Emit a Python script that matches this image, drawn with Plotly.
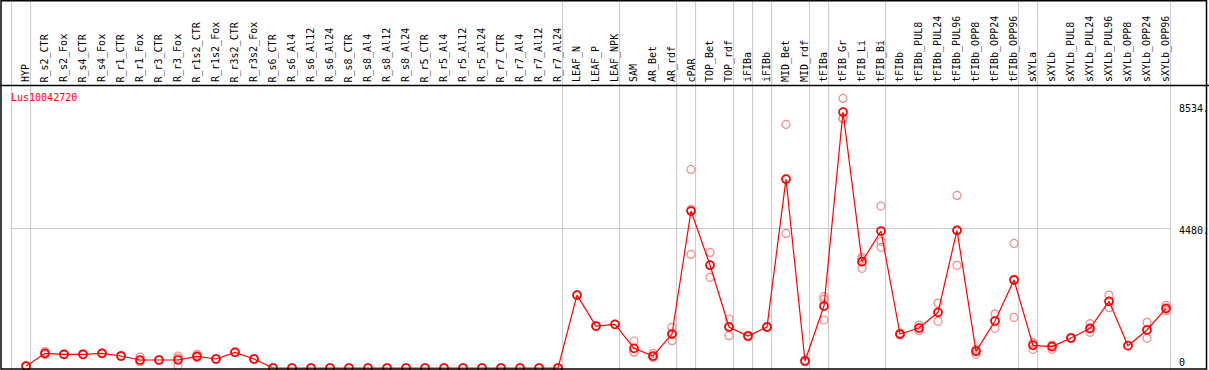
import plotly.graph_objects as go

categories = ["HYP", "R_s2_CTR", "R_s2_Fox", "R_s4_CTR", "R_s4_Fox", "R_r1_CTR", "R_r1_Fox",
              "R_r3_CTR", "R_r3_Fox", "R_r1s2_CTR", "R_r1s2_Fox", "R_r3s2_CTR", "R_r3s2_Fox",
              "R_s6_CTR", "R_s6_Al4", "R_s6_Al12", "R_s6_Al24", "R_s8_CTR", "R_s8_Al4",
              "R_s8_Al12", "R_s8_Al24", "R_r5_CTR", "R_r5_Al4", "R_r5_Al12", "R_r5_Al24",
              "R_r7_CTR", "R_r7_Al4", "R_r7_Al12", "R_r7_Al24", "LEAF_N", "LEAF_P", "LEAF_NPK",
              "SAM", "AR_Bet", "AR_rdf", "cPAR", "TOP_Bet", "TOP_rdf", "iFIBa", "iFIBb",
              "MID_Bet", "MID_rdf", "tFIBa", "tFIB_Gr", "tFIB_Li", "tFIB_Bi", "tFIBb",
              "tFIBb_PUL8", "tFIBb_PUL24", "tFIBb_PUL96", "tFIBb_OPP8", "tFIBb_OPP24",
              "tFIBb_OPP96", "sXYLa", "sXYLb", "sXYLb_PUL8", "sXYLb_PUL24", "sXYLb_PUL96",
              "sXYLb_OPP8", "sXYLb_OPP24", "sXYLb_OPP96"]

mean_values = [60, 470, 440, 440, 470, 385, 257, 257, 257, 375, 289, 503, 289,
               0, 0, 0, 0, 0, 0, 0, 0, 0, 0, 0, 0, 0, 0, 0, 0,
               2340, 1348, 1402, 632, 385, 1091, 5040, 3306, 1316, 1027, 1316,
               6067, 225, 1990, 8218, 3413, 4398, 1091, 1284, 1788, 4420, 535, 1509,
               2825, 728, 685, 963, 1273, 2140, 717, 1220, 1915]

rep_a = [60, 530, 440, 430, 470, 400, 350, 250, 385, 440, 290, 500, 290,
         0, 0, 0, 0, 0, 0, 0, 0, 0, 0, 0, 0, 0, 0, 0, 0,
         2340, 1348, 1402, 867, 470, 1306, 6378, 3713, 1573, 1000, 1300,
         7823, 250, 2290, 8657, 3553, 5201, 1120, 1380, 2086, 5543, 600, 1733,
         4002, 813, 717, 980, 1423, 2343, 717, 1466, 2013]
rep_b = [50, 450, 450, 450, 460, 370, 200, 260, 64, 330, 280, 510, 280,
         0, 0, 0, 0, 0, 0, 0, 0, 0, 0, 0, 0, 0, 0, 0, 0,
         None, None, None, 520, 345, 877, 3649, 2911, 1038, 1050, 1330,
         4323, 200, 2205, 8035, 3499, 4067, 1060, 1198, 1498, 3296, 440, 1273,
         1626, 600, 600, 950, 1145, 1937, None, 953, 1840]
rep_c = [70, 430, 430, 440, 480, 385, 220, 260, 320, 355, 300, 500, 300,
         0, 0, 0, 0, 0, 0, 0, 0, 0, 0, 0, 0, 0, 0, 0, 0,
         None, None, None, 510, 340, 1090, 5093, 3294, 1337, 1030, 1318,
         6055, 225, 1541, 8003, 3200, 3874, 1090, 1275, 1780, 4421, 565, 1521,
         2847, 771, 738, 960, 1251, 2140, None, 1241, 1892]

# index of the last category of each group (separator lines drawn just after)
group_ends = [-1, 0, 28, 31, 34, 35, 37, 38, 39, 41, 42, 45, 52, 53, 60]
y_ticks = [0, 4480, 8534]
y_tick_text = ["0", "4480.", "8534."]
gene_name = "Lus10042720"

W, H = 1209, 370
px_per_cat = 19.0
first_px = 26.0
x_lo = -first_px / px_per_cat
x_hi = x_lo + W / px_per_cat
zero_px = 368.0
units_per_px = 4480 / (zero_px - 228.5)
y_lo = -(H - zero_px) * units_per_px
y_hi = zero_px * units_per_px

rx, ry = [], []
for reps in (rep_a, rep_b, rep_c):
    for c, v in zip(categories, reps):
        if v is not None:
            rx.append(c)
            ry.append(v)

fig = go.Figure()
fig.add_trace(go.Scatter(
    x=rx, y=ry, mode="markers",
    marker=dict(symbol="circle-open", size=8, color="rgb(240,140,140)",
                line=dict(width=1.2, color="rgb(240,140,140)")),
    hoverinfo="skip", showlegend=False))
fig.add_trace(go.Scatter(
    x=categories, y=mean_values, mode="lines+markers",
    line=dict(color="red", width=1.2),
    marker=dict(symbol="circle-open", size=8, color="red",
                line=dict(width=1.7, color="red")),
    showlegend=False))

shapes = []
grid = "rgb(200,200,200)"
for g in group_ends:
    xv = g + 4.6 / px_per_cat
    shapes.append(dict(type="line", xref="x", yref="paper", x0=xv, x1=xv, y0=0, y1=1,
                       line=dict(color=grid, width=1), layer="below"))
# horizontal gridline at middle tick
shapes.append(dict(type="line", xref="x", yref="y",
                   x0=group_ends[0] + 4.6 / px_per_cat, x1=group_ends[-1] + 4.6 / px_per_cat,
                   y0=y_ticks[1], y1=y_ticks[1], line=dict(color=grid, width=1), layer="below"))
# header separator
shapes.append(dict(type="line", xref="paper", yref="paper", x0=0, x1=1,
                   y0=1 - 85.5 / H, y1=1 - 85.5 / H, line=dict(color="black", width=1.5)))
# border
shapes.append(dict(type="rect", xref="paper", yref="paper",
                   x0=1 / W, x1=1206.5 / W, y0=1 - 369 / H, y1=1 - 0.7 / H,
                   line=dict(color="black", width=1.5)))

annotations = []
for c in categories:
    annotations.append(dict(x=c, xref="x", y=1 - 83.5 / H, yref="paper", text=c,
                            showarrow=False, textangle=-90, xanchor="center", yanchor="bottom",
                            font=dict(family="DejaVu Sans Mono", size=10, color="black"),
                            borderpad=0, xshift=-0.5))
shifts = [6, -1.5, -6]
for v, t, s in zip(y_ticks, y_tick_text, shifts):
    annotations.append(dict(x=1178 / W, xref="paper", y=v, yref="y", text=t, showarrow=False,
                            xanchor="left", yanchor="middle", yshift=s, borderpad=0,
                            font=dict(family="DejaVu Sans Mono", size=10, color="black")))
annotations.append(dict(x=10 / W, xref="paper", y=1 - 97 / H, yref="paper", text=gene_name,
                        showarrow=False, xanchor="left", yanchor="middle", borderpad=0,
                        font=dict(family="DejaVu Sans Mono", size=10, color="red")))

fig.update_layout(
    width=W, height=H, margin=dict(l=0, r=0, t=0, b=0),
    paper_bgcolor="white", plot_bgcolor="white",
    xaxis=dict(type="category", categoryorder="array", categoryarray=categories,
               range=[x_lo, x_hi], showgrid=False, zeroline=False, showticklabels=False,
               ticks="", fixedrange=True),
    yaxis=dict(range=[y_lo, y_hi], showgrid=False, zeroline=False, showticklabels=False,
               ticks="", fixedrange=True),
    shapes=shapes, annotations=annotations, showlegend=False,
)

fig.write_html("out.html", config={"displayModeBar": False},
               post_script="document.body.style.margin='0';")
